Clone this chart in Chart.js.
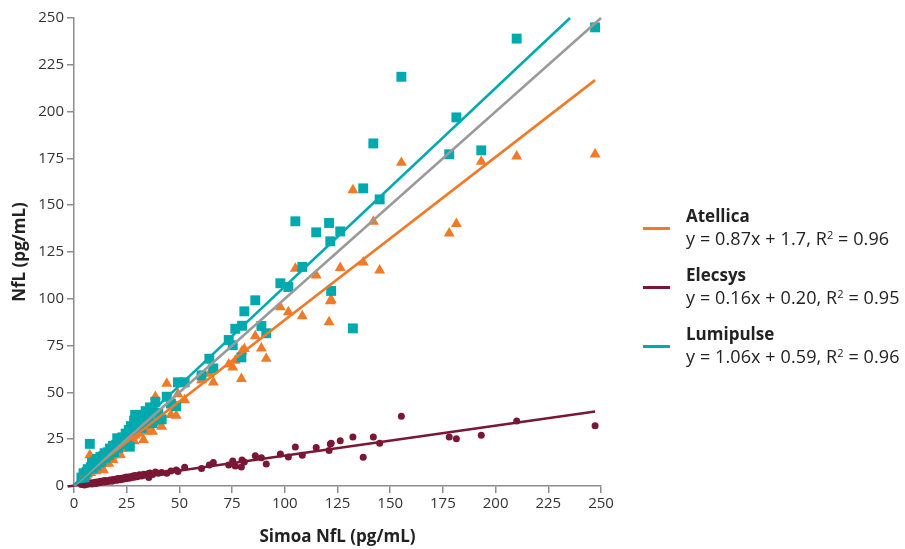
<!DOCTYPE html>
<html>
<head>
<meta charset="utf-8">
<script src="https://cdn.jsdelivr.net/npm/chart.js@4.4.1/dist/chart.umd.min.js"></script>
<style>
  body { margin: 0; background: #fff; font-family: "Open Sans", sans-serif; }
  #wrap { position: relative; width: 905px; height: 549px; }
  #legend { position: absolute; left: 643px; top: 205px; color: #222; }
  .item { position: relative; padding-left: 43px; margin-bottom: 15px; }
  .item .swatch { position: absolute; left: 0; top: 22px; width: 27px; height: 3px; }
  .item .name { font-weight: bold; font-size: 17px; line-height: 22px; }
  .item .eq { font-size: 18px; line-height: 22px; letter-spacing: 0.1px; }
  sup { font-size: 11px; line-height: 0; vertical-align: 6px; }
</style>
</head>
<body>
<div id="wrap">
  <canvas id="chart" width="905" height="549"></canvas>
  <div id="legend">
    <div class="item"><span class="swatch" style="background:#f07a28"></span>
      <div class="name">Atellica</div>
      <div class="eq">y = 0.87x + 1.7, R<sup>2</sup> = 0.96</div></div>
    <div class="item"><span class="swatch" style="background:#7a1735"></span>
      <div class="name">Elecsys</div>
      <div class="eq">y = 0.16x + 0.20, R<sup>2</sup> = 0.95</div></div>
    <div class="item"><span class="swatch" style="background:#00a9ad"></span>
      <div class="name">Lumipulse</div>
      <div class="eq">y = 1.06x + 0.59, R<sup>2</sup> = 0.96</div></div>
  </div>
</div>
<script>
const simoa = [3.5, 4.5, 5.0, 6.0, 6.5, 7.5, 8.0, 8.5, 9.0, 10.0, 10.5, 11.0, 12.0, 12.5, 13.0, 14.0,
  14.5, 15.0, 16.0, 16.5, 17.0, 18.0, 18.5, 19.0, 20.0, 20.5, 21.0, 22.0, 22.5, 23.0, 24.0, 24.5,
  25.0, 26.0, 26.5, 27.0, 28.0, 28.5, 29.0, 30.0, 31.0, 32.0, 33.0, 34.0, 35.0, 35.5, 36.0, 37.3,
  38.6, 40.0, 41.6, 44.0, 46.0, 48.5, 49.3, 52.5, 60.5, 64.2, 66.1, 73.4, 75.3, 76.5, 79.4, 79.7,
  80.8, 86.0, 88.9, 91.2, 97.9, 101.7, 105.0, 108.3, 114.9, 121.0, 121.6, 122.0, 126.3, 132.3,
  137.2, 142.0, 145.0, 155.3, 178.0, 181.4, 193.2, 210.0, 247.2];
const atellica = [3.2, 4.0, 5.5, 5.0, 6.2, 16.5, 7.0, 8.0, 10.5, 9.0, 8.0, 12.0, 10.0, 11.5, 14.0, 8.5,
  13.0, 12.0, 14.5, 12.0, 15.5, 16.0, 14.0, 17.0, 16.5, 18.0, 19.5, 16.6, 20.0, 21.0, 22.0, 20.5,
  23.5, 22.0, 24.5, 25.0, 26.5, 24.0, 27.0, 29.0, 28.0, 30.5, 24.6, 32.0, 29.0, 33.0, 35.0, 29.0,
  47.7, 34.0, 31.7, 54.7, 38.0, 37.6, 49.1, 45.9, 56.6, 60.0, 55.4, 65.0, 63.4, 67.0, 57.3, 72.0,
  73.2, 80.1, 73.5, 68.0, 95.5, 92.9, 116.1, 90.8, 112.5, 87.6, 98.8, 99.5, 116.5, 158.1,
  119.5, 141.2, 115.2, 172.7, 135.0, 140.0, 173.3, 176.1, 177.2];
const elecsys = [0.8, 1.0, 0.5, 1.2, 0.9, 1.5, 1.8, 1.1, 1.6, 2.0, 1.4, 2.2, 1.7, 2.5, 2.0, 2.8,
  2.1, 3.0, 2.4, 2.7, 3.2, 2.6, 3.5, 3.0, 3.8, 3.1, 4.0, 3.4, 4.2, 3.6, 4.5, 3.9,
  4.8, 4.2, 5.0, 4.4, 5.3, 4.7, 5.6, 5.0, 6.0, 5.4, 6.3, 5.8, 6.6, 4.5, 7.0, 6.2,
  7.5, 6.8, 7.2, 6.8, 8.0, 8.5, 7.8, 10.0, 9.4, 11.2, 12.5, 11.2, 13.4, 10.7, 10.1, 13.9,
  12.8, 16.2, 15.1, 11.8, 17.1, 15.5, 20.8, 16.4, 20.5, 18.9, 22.4, 22.8, 24.2, 26.2,
  15.3, 26.2, 22.8, 37.2, 26.2, 25.3, 27.1, 34.7, 32.2];
const lumipulse = [4.5, 6.8, 4.0, 7.5, 9.0, 22.5, 10.0, 12.5, 9.5, 13.0, 11.0, 14.5, 12.5, 15.5, 13.0, 16.0,
  17.5, 15.0, 18.0, 16.5, 20.0, 19.0, 21.5, 18.0, 22.0, 25.5, 20.5, 24.0, 22.5, 26.0, 25.0, 28.0,
  23.0, 30.0, 21.0, 32.0, 29.5, 35.0, 38.0, 33.0, 36.5, 31.0, 38.0, 40.0, 35.0, 38.5, 42.0, 33.5,
  45.0, 39.0, 35.6, 47.7, 44.0, 42.6, 55.4, 55.4, 59.1, 68.0, 62.8, 78.0, 75.2, 84.0, 68.7, 85.6,
  93.3, 99.2, 85.5, 81.6, 108.3, 106.3, 141.4, 117.0, 135.5, 140.5, 130.7, 104.2, 136.0, 84.2,
  159.0, 183.0, 153.1, 218.6, 177.2, 196.9, 179.3, 239.0, 245.0];

// Extremos das retas de regressão e da linha de identidade
const atellicaFit = [[3, 4.3], [247.2, 216.8]];
const elecsysFit = [[-3, -0.3], [247.2, 39.8]];
const lumipulseFit = [[0, 0.6], [235.3, 250]];
const identityLine = [[0, 0], [250, 250]];
const axisTicks = [0, 25, 50, 75, 100, 125, 150, 175, 200, 225, 250];

const orange = '#f07a28';
const maroon = '#7a1735';
const teal = '#00a9ad';

function pontos(ys) {
  return simoa.map((x, i) => ({ x: x, y: ys[i] }));
}
function reta(pares) {
  return pares.map(p => ({ x: p[0], y: p[1] }));
}
function linha(pares, cor, ordem) {
  return { type: 'line', data: reta(pares), borderColor: cor, borderWidth: 2.6,
    pointRadius: 0, showLine: true, fill: false, order: ordem, clip: false };
}

const ctx = document.getElementById('chart').getContext('2d');
const chart = new Chart(ctx, {
  type: 'scatter',
  data: {
    datasets: [
      linha(lumipulseFit, teal, 0),
      linha(identityLine, '#9a9a9a', 0),
      linha(atellicaFit, orange, 0),
      linha(elecsysFit, maroon, 0),
      { label: 'Lumipulse', data: pontos(lumipulse), pointStyle: 'rect', pointRadius: 7,
        backgroundColor: teal, borderWidth: 0, order: 1, clip: false },
      { label: 'Atellica', data: pontos(atellica), pointStyle: 'triangle', pointRadius: 6.3,
        backgroundColor: orange, borderWidth: 0, order: 2, clip: false },
      { label: 'Elecsys', data: pontos(elecsys), pointStyle: 'circle', pointRadius: 3.5,
        backgroundColor: maroon, borderWidth: 0, order: 3, clip: false }
    ]
  },
  options: {
    responsive: false,
    animation: false,
    layout: { padding: { left: 10, right: 304, top: 18, bottom: 2 } },
    plugins: { legend: { display: false }, tooltip: { enabled: false } },
    scales: {
      x: {
        type: 'linear', min: 0, max: 250,
        afterBuildTicks: s => { s.ticks = axisTicks.map(v => ({ value: v })); },
        border: { display: true, color: '#8c8c8c', width: 1.5 },
        grid: { drawOnChartArea: false, drawTicks: true, tickLength: 7, color: '#8c8c8c', lineWidth: 1.5 },
        ticks: { color: '#333', font: { family: 'Open Sans', size: 15 }, padding: 2, maxRotation: 0 },
        title: { display: true, text: 'Simoa NfL (pg/mL)', color: '#222',
          font: { family: 'Open Sans', size: 17, weight: 'bold' }, padding: { top: 14, bottom: 0 } },
        afterFit: s => { s.height = 61; }
      },
      y: {
        type: 'linear', min: 0, max: 250,
        afterBuildTicks: s => { s.ticks = axisTicks.map(v => ({ value: v })); },
        border: { display: true, color: '#8c8c8c', width: 1.5 },
        grid: { drawOnChartArea: false, drawTicks: true, tickLength: 7, color: '#8c8c8c', lineWidth: 1.5 },
        ticks: { color: '#333', font: { family: 'Open Sans', size: 15 }, padding: 3 },
        title: { display: true, text: 'NfL (pg/mL)', color: '#222',
          font: { family: 'Open Sans', size: 17, weight: 'bold' }, padding: { top: 0, bottom: 4 } },
        afterFit: s => { s.width = 64; }
      }
    }
  }
});
</script>
</body>
</html>
